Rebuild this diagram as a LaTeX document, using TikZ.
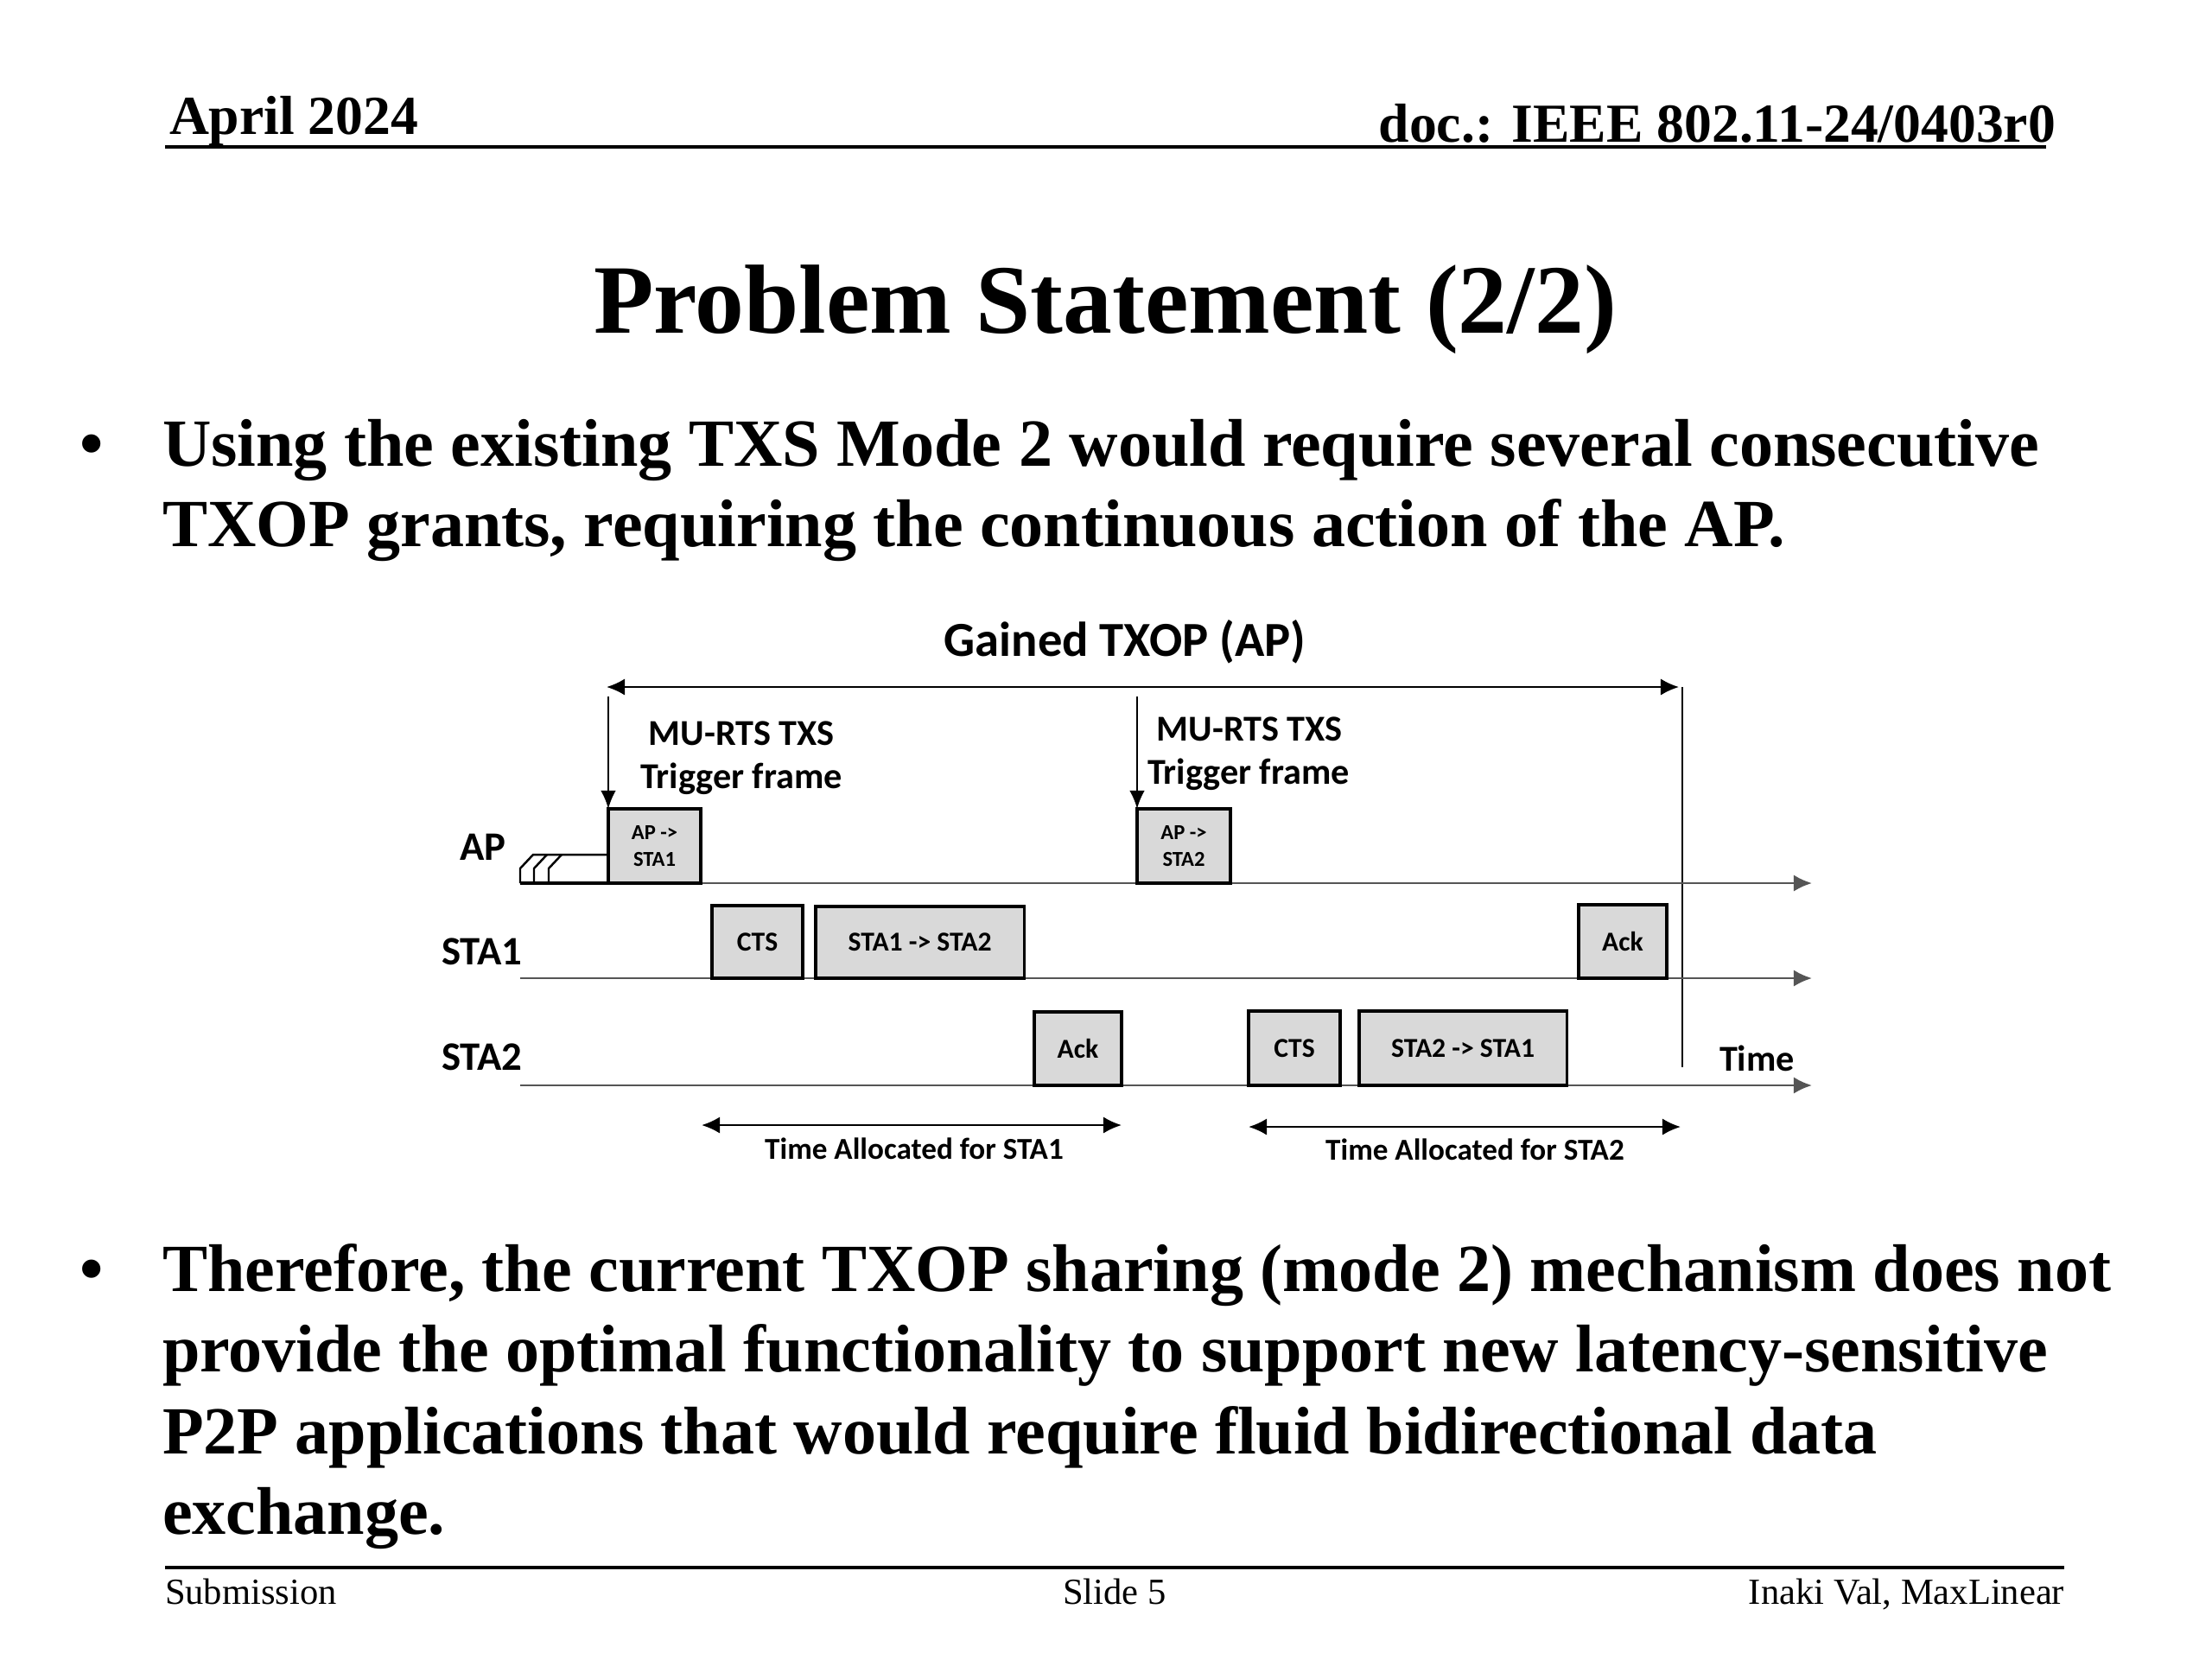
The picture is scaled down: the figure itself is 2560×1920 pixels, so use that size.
\documentclass[tikz,border=0pt]{standalone}
\usepackage{fontspec}
\setmainfont{Liberation Serif}
\newfontfamily\calibri{Carlito}
\usetikzlibrary{arrows.meta}
\definecolor{boxGray}{RGB}{217,217,217}
\definecolor{laneGray}{RGB}{85,85,85}

\begin{document}
\begin{tikzpicture}[x=0.01cm, y=-0.01cm,
    every node/.style={inner sep=0pt, outer sep=0pt},
    frame/.style={draw=black, fill=boxGray, line width=0.9pt, align=center,
      font=\calibri\bfseries\fontsize{9}{10}\selectfont},
    smallframe/.style={frame, font=\calibri\bfseries\fontsize{7}{8.8}\selectfont},
    lane/.style={draw=laneGray, line width=0.8pt, -{Latex[length=6pt,width=5.5pt]}},
    span/.style={draw=black, line width=0.7pt,
      {Latex[length=6pt,width=5.5pt]}-{Latex[length=6pt,width=5.5pt]}},
    trig/.style={draw=black, line width=0.6pt, -{Latex[length=6pt,width=5pt]}},
    rowlabel/.style={anchor=base west, font=\calibri\bfseries\fontsize{13.3}{16}\selectfont},
    note/.style={anchor=base, font=\calibri\bfseries\fontsize{12}{14}\selectfont},
    bodytext/.style={anchor=base west, font=\bfseries\fontsize{22.2}{26}\selectfont},
    slidehead/.style={font=\bfseries\fontsize{18.1}{21}\selectfont},
    slidefoot/.style={anchor=base, font=\fontsize{12.1}{14}\selectfont}]

  \fill[white] (0,0) rectangle (2560,1920);
  \useasboundingbox (0,0) rectangle (2560,1920);

  % header and footer
  \node[slidehead, anchor=base west] (month) at (196,155) {April 2024};
  \node[slidehead, anchor=base east] (docnum) at (2379,164) {doc.: IEEE 802.11-24/0403r0};
  \draw[line width=1.3pt] (191,170) -- (2368,170);
  \draw[line width=1.3pt] (191,1814) -- (2389,1814);
  \node[slidefoot, anchor=base west] (submission) at (191,1856) {Submission};
  \node[slidefoot] (slidenum) at (1290,1856) {Slide 5};
  \node[slidefoot, anchor=base east] (author) at (2389,1856) {Inaki Val, MaxLinear};

  % title
  \node[anchor=base, font=\bfseries\fontsize{32.3}{38}\selectfont] (title) at (1279,385)
    {Problem Statement (2/2)};

  % first bullet
  \node[bodytext] (dotA) at (92,539) {•};
  \node[bodytext] (lineA1) at (188,539)
    {Using the existing TXS Mode 2 would require several consecutive};
  \node[bodytext] (lineA2) at (188,632)
    {TXOP grants, requiring the continuous action of the AP.};

  % second bullet
  \node[bodytext] (dotB) at (92,1494) {•};
  \node[bodytext] (lineB1) at (188,1494)
    {Therefore, the current TXOP sharing (mode 2) mechanism does not};
  \node[bodytext] (lineB2) at (188,1587)
    {provide the optimal functionality to support new latency-sensitive};
  \node[bodytext] (lineB3) at (188,1682)
    {P2P applications that would require fluid bidirectional data};
  \node[bodytext] (lineB4) at (188,1775) {exchange.};

  % gained TXOP
  \node[anchor=base, font=\calibri\bfseries\fontsize{16.1}{19}\selectfont] (txop) at (1302,759)
    {Gained TXOP (AP)};
  \coordinate (txopL) at (702,795);
  \coordinate (txopR) at (1943,795);
  \draw[span] (txopL) -- (txopR);
  \coordinate (endT) at (1947,795);
  \coordinate (endB) at (1947,1235);
  \draw[line width=0.8pt] (endT) -- (endB);

  % time lanes
  \coordinate (apS) at (602,1022);
  \coordinate (apE) at (2097,1022);
  \coordinate (staAS) at (602,1132);
  \coordinate (staAE) at (2097,1132);
  \coordinate (staBS) at (602,1256);
  \coordinate (staBE) at (2097,1256);
  \draw[lane] (apS) -- (apE);
  \draw[lane] (staAS) -- (staAE);
  \draw[lane] (staBS) -- (staBE);

  \node[rowlabel] (apname) at (532,995) {AP};
  \node[rowlabel] (staAname) at (511,1116) {STA1};
  \node[rowlabel] (staBname) at (511,1238) {STA2};
  \node[rowlabel, font=\calibri\bfseries\fontsize{12}{14}\selectfont] (timename) at (1990,1239) {Time};

  % backoff slots
  \draw[line width=0.7pt] (602,1022) -- (602,1005) -- (617,989) -- (704,989);
  \draw[line width=0.7pt] (618,1022) -- (618,1005) -- (633,989);
  \draw[line width=0.7pt] (635,1022) -- (635,1005) -- (650,989);
  \draw[line width=1.2pt] (602,1022) -- (704,1022);

  % AP frames
  \node[smallframe, anchor=south west, minimum width=1.07cm, minimum height=0.86cm] (apA) at (704,1022)
    {AP ->\\STA1};
  \node[smallframe, anchor=south west, minimum width=1.08cm, minimum height=0.86cm] (apB) at (1316,1022)
    {AP ->\\STA2};

  % STA1 frames
  \node[frame, anchor=south west, minimum width=1.05cm, minimum height=0.84cm] (ctsA) at (824,1132) {CTS};
  \node[frame, anchor=south west, minimum width=2.41cm, minimum height=0.83cm] (dataA) at (944,1132) {STA1 -> STA2};
  \node[frame, anchor=south west, minimum width=1.02cm, minimum height=0.85cm] (ackA) at (1827,1132) {Ack};

  % STA2 frames
  \node[frame, anchor=south west, minimum width=1.01cm, minimum height=0.85cm] (ackB) at (1197,1256) {Ack};
  \node[frame, anchor=south west, minimum width=1.06cm, minimum height=0.86cm] (ctsB) at (1445,1256) {CTS};
  \node[frame, anchor=south west, minimum width=2.40cm, minimum height=0.86cm] (dataB) at (1573,1256) {STA2 -> STA1};

  % trigger frames
  \coordinate (trigA) at (704,806);
  \coordinate (trigB) at (1316,806);
  \draw[trig] (trigA) -- (apA.north west);
  \draw[trig] (trigB) -- (apB.north west);
  \node[note] (trigAtop) at (858,862) {MU-RTS TXS};
  \node[note] (trigAbot) at (858,912) {Trigger frame};
  \node[note] (trigBtop) at (1446,857) {MU-RTS TXS};
  \node[note] (trigBbot) at (1445,907) {Trigger frame};

  % allocated times
  \coordinate (allocAL) at (812,1302);
  \coordinate (allocAR) at (1298,1302);
  \coordinate (allocBL) at (1445,1304);
  \coordinate (allocBR) at (1945,1304);
  \draw[span] (allocAL) -- (allocAR);
  \draw[span] (allocBL) -- (allocBR);
  \node[anchor=base, font=\calibri\bfseries\fontsize{10}{12}\selectfont] (allocA) at (1058,1341)
    {Time Allocated for STA1};
  \node[anchor=base, font=\calibri\bfseries\fontsize{10}{12}\selectfont] (allocB) at (1707,1342)
    {Time Allocated for STA2};
\end{tikzpicture}
\end{document}
